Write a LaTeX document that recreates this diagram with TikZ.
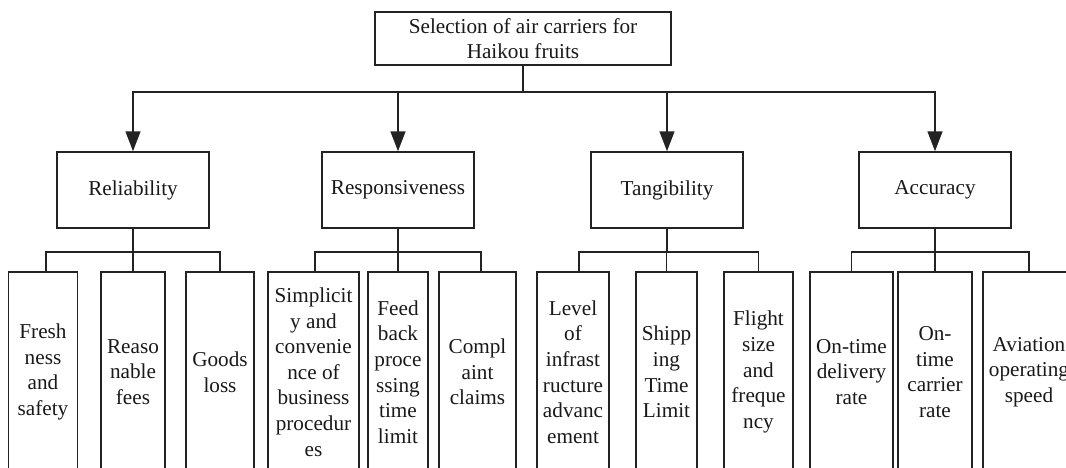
\documentclass[tikz,border=0pt]{standalone}
\usepackage{fontspec}
\setmainfont{Liberation Serif}
\usepackage{tikz}
\usetikzlibrary{arrows.meta}
\definecolor{boxline}{RGB}{35,35,35}
\definecolor{boxtext}{RGB}{25,25,25}
\tikzset{
  goalbox/.style={draw=boxline,line width=1.5pt,fill=white,minimum width=296pt,
    minimum height=53pt,inner sep=1pt,align=center,text=boxtext,
    font=\fontsize{21.2}{25.6}\selectfont},
  critbox/.style={goalbox,minimum width=152pt,minimum height=76pt},
  subbox/.style={goalbox,minimum height=200pt},
  link/.style={draw=boxline,line width=1.5pt},
  arrowlink/.style={link,-{Triangle[length=20pt,width=15pt]}}
}

\begin{document}
\begin{tikzpicture}[x=1pt,y=-1pt]
  \path[use as bounding box,clip] (0,0) rectangle (1066,467);

  \node[goalbox] (root) at (523,38.5) {Selection of air carriers for\\Haikou fruits};
  \node[critbox] (rel)  at (133,190) {Reliability};
  \node[critbox] (resp) at (398,190) {Responsiveness};
  \node[critbox] (tang) at (667,190) {Tangibility};
  \node[critbox] (acc)  at (935,190) {Accuracy};

  \node[subbox,minimum width=69pt] (fresh)   at (43,372)   {Fresh\\ness\\and\\safety};
  \node[subbox,minimum width=64pt] (fees)    at (133,372)  {Reaso\\nable\\fees};
  \node[subbox,minimum width=68pt] (loss)    at (220,372)  {Goods\\loss};
  \node[subbox,minimum width=91pt] (simp)    at (313.5,372) {Simplicit\\y and\\convenie\\nce of\\business\\procedur\\es};
  \node[subbox,minimum width=60pt] (feed)    at (398,372)  {Feed\\back\\proce\\ssing\\time\\limit};
  \node[subbox,minimum width=77pt] (claims)  at (477.5,372) {Compl\\aint\\claims};
  \node[subbox,minimum width=72pt] (infra)   at (573,372)  {Level\\of\\infrast\\ructure\\advanc\\ement};
  \node[subbox,minimum width=61pt] (ship)    at (666.5,372) {Shipp\\ing\\Time\\Limit};
  \node[subbox,minimum width=69pt] (flight)  at (758.5,372) {Flight\\size\\and\\freque\\ncy};
  \node[subbox,minimum width=83pt] (ontime)  at (851.5,372) {On-time\\delivery\\rate};
  \node[subbox,minimum width=74pt] (carrier) at (935,372)  {On-\\time\\carrier\\rate};
  \node[subbox,minimum width=92pt] (speed)   at (1029,372) {Aviation\\operating\\speed};

  \coordinate (rootbus) at (523,92);
  \draw[link] (root) -- (rootbus);
  \foreach \c in {rel,resp,tang,acc}
    \draw[arrowlink] (rootbus) -| (\c.north);

  \coordinate (relbus)  at (133,252);
  \coordinate (respbus) at (398,252);
  \coordinate (tangbus) at (667,252);
  \coordinate (accbus)  at (935,252);
  \draw[link] (rel) -- (relbus);
  \draw[link] (resp) -- (respbus);
  \draw[link] (tang) -- (tangbus);
  \draw[link] (acc) -- (accbus);
  \draw[link] (relbus) -| ([xshift=3pt]fresh.north);
  \draw[link] (relbus) -| (fees.north);
  \draw[link] (relbus) -| (loss.north);
  \draw[link] (respbus) -| ([xshift=1.5pt]simp.north);
  \draw[link] (respbus) -| (feed.north);
  \draw[link] (respbus) -| ([xshift=3.5pt]claims.north);
  \draw[link] (tangbus) -| ([xshift=6pt]infra.north);
  \draw[link] (tangbus) -| (ship.north);
  \draw[link] (tangbus) -| (flight.north);
  \foreach \c in {ontime,carrier,speed}
    \draw[link] (accbus) -| (\c.north);
\end{tikzpicture}
\end{document}
